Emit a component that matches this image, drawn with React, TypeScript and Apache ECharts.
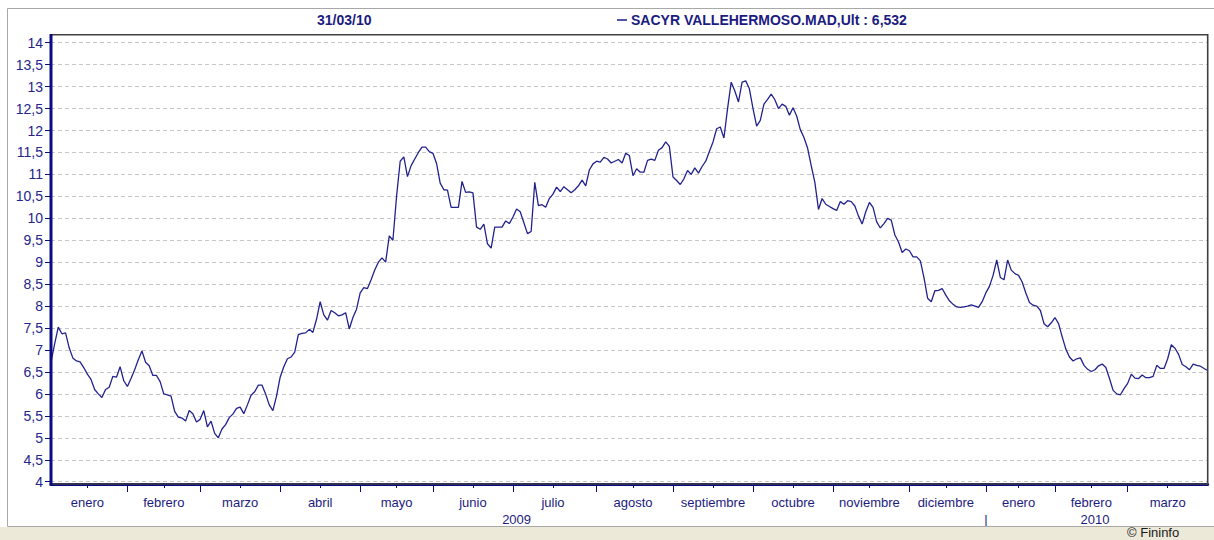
import React, { useEffect, useRef } from "react";
import * as echarts from "echarts";

// ---- data -------------------------------------------------------------
const MONTH_NAMES = [
  "enero", "febrero", "marzo", "abril", "mayo", "junio", "julio", "agosto",
  "septiembre", "octubre", "noviembre", "diciembre", "enero", "febrero", "marzo",
];

const JAN09 = [6.73, 7.14, 7.52, 7.37, 7.39, 7.05, 6.82, 6.75, 6.73, 6.6, 6.45, 6.33, 6.1, 6.0, 5.92, 6.1, 6.15, 6.4, 6.38, 6.62, 6.3];
const FEB09 = [6.17, 6.35, 6.55, 6.78, 6.98, 6.72, 6.64, 6.42, 6.42, 6.28, 6.0, 5.98, 5.95, 5.6, 5.47, 5.45, 5.38, 5.62, 5.55, 5.36];
const MAR09 = [5.42, 5.62, 5.25, 5.38, 5.1, 5.0, 5.2, 5.3, 5.46, 5.54, 5.67, 5.7, 5.55, 5.75, 5.97, 6.05, 6.2, 6.2, 6.0, 5.75, 5.62, 5.95];
const APR09 = [6.38, 6.62, 6.8, 6.84, 6.95, 7.35, 7.38, 7.39, 7.47, 7.4, 7.7, 8.1, 7.8, 7.68, 7.9, 7.85, 7.78, 7.8, 7.85, 7.48, 7.74, 7.93];
const MAY09 = [8.3, 8.42, 8.4, 8.6, 8.82, 9.0, 9.1, 9.0, 9.6, 9.5, 10.5, 11.3, 11.4, 10.95, 11.2, 11.35, 11.5, 11.62, 11.62, 11.52];
const JUN09 = [11.48, 11.25, 10.8, 10.65, 10.64, 10.25, 10.25, 10.25, 10.84, 10.59, 10.6, 10.58, 9.8, 9.75, 9.87, 9.42, 9.32, 9.8, 9.8, 9.8, 9.94, 9.88];
const JUL09 = [10.03, 10.21, 10.15, 9.9, 9.65, 9.7, 10.82, 10.29, 10.31, 10.25, 10.45, 10.55, 10.71, 10.61, 10.72, 10.65, 10.58, 10.65, 10.74, 10.87, 10.74, 11.1, 11.24];
const AUG09 = [11.3, 11.28, 11.39, 11.35, 11.26, 11.3, 11.34, 11.26, 11.48, 11.43, 10.97, 11.13, 11.05, 11.05, 11.32, 11.35, 11.32, 11.55, 11.61, 11.74, 11.64];
const SEP09 = [10.94, 10.86, 10.77, 10.9, 11.09, 11.0, 11.15, 11.03, 11.18, 11.3, 11.52, 11.74, 12.04, 12.08, 11.83, 12.5, 13.1, 12.9, 12.65, 13.1, 13.13, 12.95];
const OCT09 = [12.5, 12.1, 12.23, 12.6, 12.71, 12.83, 12.7, 12.5, 12.6, 12.55, 12.35, 12.52, 12.33, 12.02, 11.84, 11.6, 11.2, 10.82, 10.2, 10.45, 10.32, 10.27];
const NOV09 = [10.22, 10.18, 10.38, 10.32, 10.4, 10.38, 10.28, 10.05, 9.87, 10.15, 10.36, 10.25, 9.92, 9.78, 9.88, 10.0, 9.96, 9.62, 9.46, 9.22, 9.3];
const DEC09 = [9.26, 9.12, 9.12, 9.03, 8.65, 8.18, 8.1, 8.35, 8.36, 8.4, 8.25, 8.12, 8.04, 7.98, 7.97, 7.98, 8.0, 8.03, 8.0, 7.97, 8.1];
const JAN10 = [8.3, 8.45, 8.7, 9.05, 8.65, 8.6, 9.05, 8.82, 8.74, 8.7, 8.55, 8.3, 8.08, 8.02, 8.0, 7.9, 7.6, 7.53, 7.62];
const FEB10 = [7.74, 7.6, 7.3, 7.02, 6.84, 6.75, 6.8, 6.82, 6.65, 6.56, 6.51, 6.55, 6.64, 6.68, 6.6, 6.35, 6.08, 6.0, 5.98, 6.12];
const MAR10 = [6.24, 6.45, 6.36, 6.35, 6.43, 6.37, 6.37, 6.4, 6.65, 6.58, 6.58, 6.8, 7.12, 7.04, 6.9, 6.67, 6.62, 6.55, 6.68, 6.65, 6.63, 6.58, 6.532];

const MONTHS = [JAN09, FEB09, MAR09, APR09, MAY09, JUN09, JUL09, AUG09, SEP09, OCT09, NOV09, DEC09, JAN10, FEB10, MAR10];

const YEAR_LABELS = ["2009", "2010"];
const YEAR_FIRST_MONTH = [0, 12];

const HEADER_DATE = "31/03/10";
const TICKER = "SACYR VALLEHERMOSO.MAD";
const COPYRIGHT = "© Fininfo";

const Y_MIN = 4;
const Y_MAX = 14;
const Y_STEP = 0.5;

// ---- styles -----------------------------------------------------------
const FONT = "'Liberation Sans', Arial, sans-serif";
const NAVY = "#1b1b80";
const AXIS_NAVY = "#0a0a82";

export default function App() {
  const ref = useRef<HTMLDivElement>(null);

  useEffect(() => {
    const chart = echarts.init(ref.current!, null, { renderer: "svg" });

    const values: number[] = [];
    const starts: number[] = [];
    const monthStart = new Set<number>();
    const monthMid = new Map<number, string>();
    MONTHS.forEach((arr, m) => {
      const s = values.length;
      starts.push(s);
      monthStart.add(s);
      monthMid.set(s + Math.floor(arr.length / 2), MONTH_NAMES[m]);
      values.push(...arr);
    });
    const n = values.length;
    const yearMarks = new Map<number, string>();
    YEAR_FIRST_MONTH.forEach((fm, k) => {
      const s = starts[fm];
      const e = k + 1 < YEAR_FIRST_MONTH.length ? starts[YEAR_FIRST_MONTH[k + 1]] - 1 : n - 1;
      yearMarks.set(Math.floor((s + e) / 2), YEAR_LABELS[k]);
      if (k > 0) yearMarks.set(s, "|");
    });
    const cats = values.map((_, i) => String(i));
    const last = values[n - 1].toFixed(3).replace(".", ",");

    const gridLeft = 51;
    const gridRight = 6.3;
    const gridTop = 42.7;
    const gridBottom = 58.3;
    const axisOffset = 2.3;

    chart.setOption({
      animation: false,
      backgroundColor: "#ffffff",
      title: {
        text: HEADER_DATE,
        left: 317,
        top: 13,
        padding: 0,
        textStyle: { fontFamily: FONT, fontSize: 14, fontWeight: "bold", color: NAVY },
      },
      legend: {
        left: 617,
        top: 13,
        padding: 0,
        selectedMode: false,
        icon: "rect",
        itemWidth: 10,
        itemHeight: 1.5,
        textStyle: { fontFamily: FONT, fontSize: 14, fontWeight: "bold", color: NAVY, padding: [0, 0, 0, -1] },
        formatter: (name: string) => `${name},Ult : ${last}`,
        data: [{ name: TICKER, itemStyle: { color: NAVY } }],
      },
      grid: { left: gridLeft, right: gridRight, top: gridTop, bottom: gridBottom, containLabel: false },
      xAxis: [
        {
          type: "category",
          data: cats,
          boundaryGap: false,
          offset: axisOffset,
          axisLine: { show: true, lineStyle: { color: AXIS_NAVY, width: 3 } },
          axisTick: {
            show: true,
            length: 8,
            interval: (i: number) => monthStart.has(i) && i > 0,
            lineStyle: { color: AXIS_NAVY, width: 1 },
          },
          axisLabel: {
            interval: (i: number) => monthMid.has(i),
            formatter: (_v: string, i: number) => monthMid.get(i) ?? "",
            margin: 12,
            fontFamily: FONT,
            fontSize: 13,
            color: NAVY,
          },
          splitLine: { show: false },
        },
        {
          type: "category",
          data: cats,
          boundaryGap: false,
          offset: axisOffset,
          position: "bottom",
          axisLine: { show: false },
          axisTick: {
            show: true,
            length: 4,
            interval: (i: number) => monthMid.has(i),
            lineStyle: { color: AXIS_NAVY, width: 1 },
          },
          axisLabel: {
            interval: (i: number) => yearMarks.has(i),
            formatter: (_v: string, i: number) => yearMarks.get(i) ?? "",
            margin: 28.5,
            fontFamily: FONT,
            fontSize: 13,
            color: NAVY,
          },
          splitLine: { show: false },
        },
      ],
      yAxis: {
        type: "value",
        min: Y_MIN,
        max: Y_MAX,
        interval: Y_STEP,
        axisLine: { show: false },
        axisTick: { show: true, length: 6, lineStyle: { color: AXIS_NAVY, width: 1 } },
        axisLabel: {
          margin: 8,
          fontFamily: FONT,
          fontSize: 14,
          color: "#25258c",
          formatter: (v: number) => String(v).replace(".", ","),
        },
        splitLine: { show: true, lineStyle: { color: "#c6c6c6", width: 1, type: [4, 3] } },
      },
      series: [
        {
          name: TICKER,
          type: "line",
          data: values,
          showSymbol: false,
          symbol: "none",
          lineStyle: { color: "#22228e", width: 1.3 },
          z: 5,
        },
      ],
      graphic: [
        {
          type: "rect",
          shape: { x: 7.5, y: 8.5, width: 1230, height: 518 },
          style: { fill: "none", stroke: "#a8a8a8", lineWidth: 1 },
          silent: true,
          z: 1,
        },
        {
          type: "rect",
          shape: { x: 0, y: 527, width: 1214, height: 13 },
          style: { fill: "#ece9d8" },
          silent: true,
          z: 1,
        },
        {
          type: "text",
          x: 1127,
          y: 526,
          style: { text: COPYRIGHT, font: `13px ${FONT}`, fill: "#1a1a1a" },
          silent: true,
          z: 2,
        },
        {
          type: "rect",
          shape: { x: 51, y: 34.7, width: 1156.7, height: 449.3 },
          style: { fill: "none", stroke: "#404040", lineWidth: 1.6 },
          silent: true,
          z: 10,
        },
        {
          type: "line",
          shape: { x1: 51, y1: 33.9, x2: 51, y2: 485.5 },
          style: { stroke: AXIS_NAVY, lineWidth: 3 },
          silent: true,
          z: 11,
        },
      ],
    });

    return () => chart.dispose();
  }, []);

  return (
    <div
      ref={ref}
      style={{ position: "fixed", left: 0, top: 0, width: 1214, height: 540, background: "#fff" }}
    />
  );
}
